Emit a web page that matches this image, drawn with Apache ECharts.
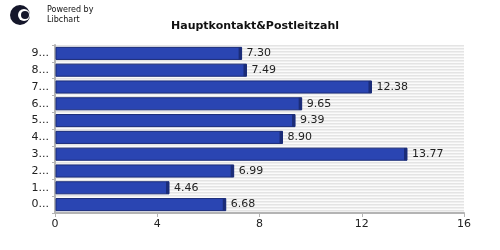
<!DOCTYPE html>
<html><head><meta charset="utf-8">
<script src="https://cdn.jsdelivr.net/npm/echarts@6/dist/echarts.min.js"></script>
<style>html,body{margin:0;padding:0;background:#fff}#c{width:500px;height:250px}</style>
</head><body><div id="c"></div>
<script>
var categories = ['0...','1...','2...','3...','4...','5...','6...','7...','8...','9...'];
var values = [6.68, 4.46, 6.99, 13.77, 8.90, 9.39, 9.65, 12.38, 7.49, 7.30];
var xTicks = [0, 4, 8, 12, 16];
var titleText = 'Hauptkontakt&Postleitzahl';

var pc = document.createElement('canvas');
pc.width = 4; pc.height = 3;
var g = pc.getContext('2d');
g.fillStyle = '#fbfbfb'; g.fillRect(0,0,4,3);
g.fillStyle = '#e4e4e4'; g.fillRect(0,0,4,1);
g.fillStyle = '#efefef'; g.fillRect(0,1,4,1);

var chart = echarts.init(document.getElementById('c'), null, {renderer:'canvas'});
var font = 'DejaVu Sans';
chart.setOption({
  animation:false,
  title:{text:titleText,left:250,top:16,textAlign:'center',
    textStyle:{fontFamily:font,fontSize:11,fontWeight:'bold',color:'#111'}},
  grid:{left:55,right:36,top:45,bottom:37,show:true,borderWidth:0,
    backgroundColor:{image:pc,repeat:'repeat'}},
  xAxis:{type:'value',min:xTicks[0],max:xTicks[xTicks.length-1],interval:4,
    axisLine:{show:true,lineStyle:{color:'#b4b4b4',width:2}},
    axisTick:{show:true,length:4,lineStyle:{color:'#b4b4b4',width:1}},
    splitLine:{show:false},
    axisLabel:{fontFamily:font,fontSize:11,color:'#222',margin:6}},
  yAxis:{type:'category',data:categories,
    axisLine:{show:true,lineStyle:{color:'#b4b4b4',width:2}},
    axisTick:{show:true,length:3,lineStyle:{color:'#b4b4b4'}},
    axisLabel:{fontFamily:font,fontSize:11,color:'#222',margin:6}},
  graphic:[
    {type:'circle',shape:{cx:20,cy:15,r:10},style:{fill:'#15172b'}},
    {type:'circle',shape:{cx:24,cy:15,r:6},style:{fill:'#ffffff'}},
    {type:'circle',shape:{cx:25,cy:15,r:4},style:{fill:'#15172b'}},
    {type:'text',left:47,top:6,style:{text:'Powered by',font:'8px '+font,fill:'#111'}},
    {type:'text',left:47,top:16,style:{text:'Libchart',font:'8px '+font,fill:'#111'}}
  ],
  series:[{
    type:'custom',
    data:values.map(function(v,i){return [v,i];}),
    encode:{x:0,y:1},
    renderItem:function(params,api){
      var v=api.value(0), c=api.value(1);
      var p0=api.coord([0,c]), p1=api.coord([v,c]);
      var h=api.size([0,1])[1]*0.72;
      var y=p0[1]-h/2;
      var w=p1[0]-p0[0];
      return {type:'group',children:[
        {type:'rect',shape:{x:p0[0]+1,y:y,width:w-1,height:h},style:{fill:'#2a45b2',stroke:'#1b2c78',lineWidth:1}},
        {type:'rect',shape:{x:p1[0]-3,y:y,width:3,height:h},style:{fill:'#1b2c78'}},
        {type:'text',x:p1[0]+5,y:p0[1],style:{text:v.toFixed(2),font:'11px '+font,fill:'#222',verticalAlign:'middle',align:'left'}}
      ]};
    }
  }]
});
</script></body></html>
